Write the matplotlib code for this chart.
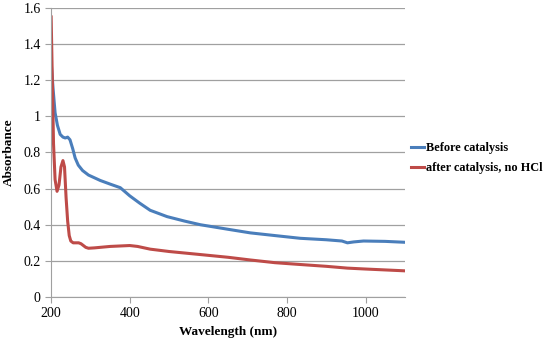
import matplotlib.pyplot as plt

plt.rcParams['font.family'] = ['Liberation Serif', 'DejaVu Serif']

# wavelength (nm) and absorbance
blue_nm = [200, 205, 210, 216, 223, 230, 236, 242, 248, 255, 261, 269, 280, 295,
           325, 350, 376, 400, 425, 452, 495, 540, 580, 650, 707, 770, 834, 900,
           940, 954, 970, 995, 1050, 1100]
blue_abs = [1.30, 1.15, 1.02, 0.95, 0.90, 0.885, 0.88, 0.885, 0.87, 0.82, 0.77, 0.73,
            0.70, 0.675, 0.645, 0.625, 0.605, 0.56, 0.52, 0.48, 0.445, 0.42, 0.40,
            0.375, 0.355, 0.34, 0.325, 0.317, 0.31, 0.30, 0.305, 0.31, 0.308, 0.303]

red_nm = [200, 203, 206, 210, 215, 220, 225, 230, 234, 238, 242, 246, 250, 256,
          262, 270, 276, 282, 288, 295, 310, 350, 400, 420, 452, 500, 580, 650,
          707, 770, 834, 900, 954, 1000, 1050, 1100]
red_abs = [1.55, 1.2, 0.85, 0.65, 0.585, 0.62, 0.72, 0.755, 0.72, 0.55, 0.42, 0.34,
           0.31, 0.30, 0.30, 0.30, 0.295, 0.285, 0.275, 0.27, 0.272, 0.28, 0.285,
           0.28, 0.265, 0.252, 0.235, 0.22, 0.205, 0.19, 0.18, 0.17, 0.16, 0.155,
           0.15, 0.145]

labels = ['Before catalysis', 'after catalysis, no HCl']
x_ticks = [200, 400, 600, 800, 1000]
y_ticks = [0, 0.2, 0.4, 0.6, 0.8, 1.0, 1.2, 1.4, 1.6]
y_labels = ['0', '0.2', '0.4', '0.6', '0.8', '1', '1.2', '1.4', '1.6']

fig = plt.figure(figsize=(5.5, 3.43), dpi=100)
ax = fig.add_axes([0.093, 0.134, 0.643, 0.843])

ax.plot(blue_nm, blue_abs, color='#4A7EBB', lw=2.2, label=labels[0])
ax.plot(red_nm, red_abs, color='#BE4B48', lw=2.2, label=labels[1])

ax.set_xlim(200, 1100)
ax.set_ylim(0, 1.6)
ax.set_xticks(x_ticks)
ax.set_yticks(y_ticks)
ax.set_yticklabels(y_labels)
ax.grid(axis='y', color='#a0a0a0', lw=0.9)
ax.set_axisbelow(True)
for s in ['top', 'right']:
    ax.spines[s].set_visible(False)
for s in ['left', 'bottom']:
    ax.spines[s].set_color('#a0a0a0')
ax.tick_params(colors='#a0a0a0', labelcolor='black', labelsize=10, length=4)

ax.set_xlabel('Wavelength (nm)', fontweight='bold', fontsize=9.5, labelpad=4)
ax.set_ylabel('Absorbance', fontweight='bold', fontsize=9.5, labelpad=6)

fig.legend(loc='center left', bbox_to_anchor=(0.738, 0.539), frameon=False,
           prop={'weight': 'bold', 'size': 8.8}, handlelength=1.1,
           handletextpad=0.15, labelspacing=0.6, borderaxespad=0.0)

fig.savefig('out.png', dpi=100)
